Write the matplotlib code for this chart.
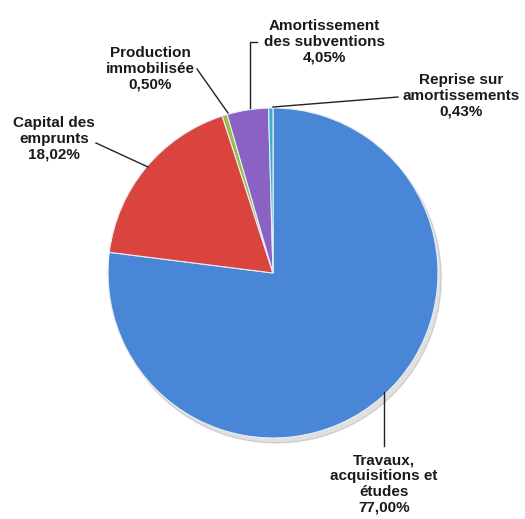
import matplotlib.pyplot as plt

labels = ['Travaux,\nacquisitions et\nétudes\n77,00%',
          'Capital des\nemprunts\n18,02%',
          'Production\nimmobilisée\n0,50%',
          'Amortissement\ndes subventions\n4,05%',
          'Reprise sur\namortissements\n0,43%']
values = [77.00, 18.02, 0.50, 4.05, 0.43]
colors = ['#4a86d6', '#d9443f', '#9bbb45', '#8a62c4', '#3eaec8']

# label text centres and leader line points, in pixels (x from left, y from top)
text_px = [(384, 484), (54, 139), (150, 69), (324, 42), (461, 96)]
line_px = [
    [(384, 446), (384, 392)],
    [(96, 143), (148, 167)],
    [(197, 69), (228, 113)],
    [(257, 42), (250, 42), (250, 108)],
    [(398, 97), (273, 107)],
]

W, H = 525, 519
cx, cy, r = 273, 273, 165

plt.rcParams['font.family'] = ['Liberation Sans', 'DejaVu Sans']
fig = plt.figure(figsize=(W / 100, H / 100), dpi=100)
ax = fig.add_axes([0, 0, 1, 1])


def to_data(p):
    return ((p[0] - cx) / r, (cy - p[1]) / r)


wedges, _ = ax.pie(values, colors=colors, startangle=90, counterclock=False,
                   radius=1, wedgeprops=dict(edgecolor='#e8eef8', linewidth=0.8))
for w in wedges:
    w.set_zorder(3)

# soft shadow under the pie
shadow = plt.Circle((0.02, -0.03), 1.0, color='#000000', alpha=0.12, zorder=1)
ax.add_patch(shadow)

for lab, tp, pts in zip(labels, text_px, line_px):
    x, y = to_data(tp)
    ax.text(x, y, lab, ha='center', va='center', fontsize=11, fontweight='bold',
            color='#1a1a1a', linespacing=1.18, zorder=5)
    xs = [to_data(p)[0] for p in pts]
    ys = [to_data(p)[1] for p in pts]
    ax.plot(xs, ys, color='#222222', lw=1.0, zorder=4)

ax.set_xlim(-cx / r, (W - cx) / r)
ax.set_ylim(-(H - cy) / r, cy / r)
ax.set_aspect('auto')
ax.axis('off')

fig.savefig('out.png', dpi=100)
